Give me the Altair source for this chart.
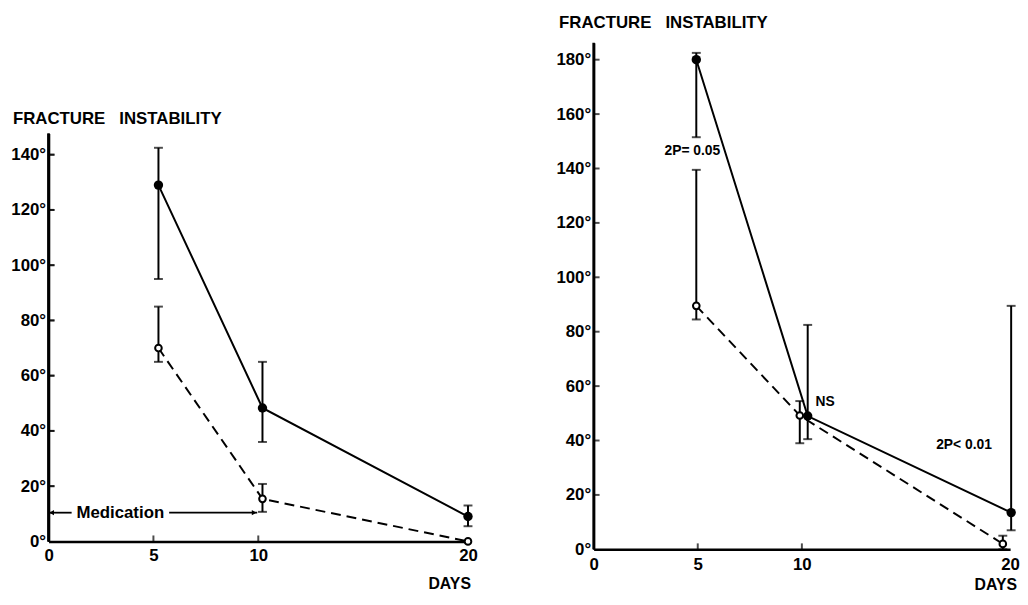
import altair as alt
import pandas as pd

FONT = "Liberation Sans"
WEIGHT = "bold"

# ---------------- data ----------------
X_TICKS = [0, 5, 10, 20]

# left panel
L_FILLED_DAY = [5.24, 10.2, 20.0]
L_FILLED_VAL = [129, 48.3, 9]
L_FILLED_LO = [95, 36, 5.5]
L_FILLED_HI = [142.5, 65, 13]
L_OPEN_DAY = [5.24, 10.2, 20.0]
L_OPEN_VAL = [70, 15.4, 0]
L_OPEN_ERR_DAY = [5.24, 10.2]
L_OPEN_LO = [65, 10.7]
L_OPEN_HI = [85, 20.8]
L_Y_TICKS = [0, 20, 40, 60, 80, 100, 120, 140]

# right panel
R_FILLED_DAY = [4.93, 10.28, 20.05]
R_FILLED_VAL = [180, 49, 13.5]
R_FILLED_LO = [151.5, 40.5, 7]
R_FILLED_HI = [182.5, 82.5, 89.5]
R_OPEN_DAY = [4.93, 9.9, 19.65]
R_OPEN_VAL = [89.5, 49.2, 2]
R_OPEN_ERR_DAY = [4.93, 9.9, 19.65]
R_OPEN_LO = [84.5, 39, 0]
R_OPEN_HI = [139.5, 54.5, 5]
R_Y_TICKS = [0, 20, 40, 60, 80, 100, 120, 140, 160, 180]

TITLE = "FRACTURE\u00a0\u00a0\u00a0INSTABILITY"

# text annotations (text, day, degrees)
L_TEXTS = [TITLE, "DAYS"]
L_TEXT_X = [-1.70, 20.14]
L_TEXT_Y = [153, -15.6]
L_TEXT_ALIGN = ["left", "right"]
L_TEXT_SIZE = [17, 16]

R_TEXTS = [TITLE, "DAYS", "2P= 0.05", "NS", "2P< 0.01"]
R_TEXT_X = [-1.66, 20.33, 4.74, 10.66, 16.45]
R_TEXT_Y = [193.5, -13.3, 146.5, 54.2, 38.5]
R_TEXT_ALIGN = ["left", "right", "center", "left", "left"]
R_TEXT_SIZE = [17, 16, 14, 14, 14]

# medication arrow (left panel)
MED_LEVEL = 10.4
MED_START, MED_END = 0.0, 9.95
MED_TEXT_START, MED_TEXT_END = 1.1, 5.75
MED_TEXT_CENTER = 3.42

# axis extents (degrees) and panel geometry
L_YMAX, R_YMAX = 180.5, 186.2
L_AXIS_TOP, R_AXIS_TOP = 147.7, 186.2
L_W, L_H = 424, 504
R_W, R_H = 421, 512
SPACING = 127


def text_layers(X, Y, texts, xs_, ys_, aligns, sizes):
    tdf = pd.DataFrame({"t": texts, "d": xs_, "v": ys_, "a": aligns,
                        "s": sizes})
    out = []
    for al in sorted(set(aligns)):
        for sz in sorted(set(sizes)):
            out.append(
                alt.Chart(tdf)
                .transform_filter((alt.datum.a == al) & (alt.datum.s == sz))
                .mark_text(align=al, baseline="middle", font=FONT,
                           fontSize=sz, fontWeight=WEIGHT, color="black")
                .encode(x=X("d"), y=Y("v"), text="t:N"))
    return out


def panel(fd, fv, flo, fhi, od, ov, oed, olo, ohi, ymax, axis_top,
          yticks, width, height, label_pad_x, extra):
    xs = alt.Scale(domain=[0, 20], nice=False, zero=False)
    ys = alt.Scale(domain=[0, ymax], nice=False, zero=False)
    xax = alt.Axis(values=X_TICKS, ticks=False, grid=False, title=None,
                   labelPadding=label_pad_x, domain=True, labelFlush=False)
    axis_px = height * axis_top / ymax
    yax = alt.Axis(values=yticks, ticks=False, grid=False, title=None,
                   domain=True, domainDash=[axis_px, 3000],
                   labelPadding=3, labelFlush=False,
                   labelExpr="datum.value + '°'")

    def X(f):
        return alt.X(f, type="quantitative", scale=xs, axis=xax)

    def Y(f):
        return alt.Y(f, type="quantitative", scale=ys, axis=yax)

    filled = pd.DataFrame({"d": fd, "v": fv})
    opn = pd.DataFrame({"d": od, "v": ov})
    ferr = pd.DataFrame({"d": fd, "lo": flo, "hi": fhi})
    oerr = pd.DataFrame({"d": oed, "lo": olo, "hi": ohi})
    errs = pd.concat([ferr, oerr], ignore_index=True)
    caps = pd.concat([errs.rename(columns={"lo": "c"})[["d", "c"]],
                      errs.rename(columns={"hi": "c"})[["d", "c"]]],
                     ignore_index=True)
    caps["k"] = "cap"
    ytk = pd.DataFrame({"d": 0.0, "c": [float(t) for t in yticks if t > 0],
                        "k": "ytick"})
    xtk = pd.DataFrame({"d": [5.0, 10.0], "c": 0.0, "k": "xtick"})
    ticks = pd.concat([caps, ytk, xtk], ignore_index=True)
    axis_line = pd.DataFrame({"ad": [0.0], "a0": [0.0],
                              "a1": [float(axis_top)]})

    layers = [
        alt.Chart(opn).mark_line(color="black", strokeWidth=2,
                                 strokeDash=[10, 6])
        .encode(x=X("d"), y=Y("v")),
        alt.Chart(filled).mark_line(color="black", strokeWidth=2)
        .encode(x=X("d"), y=Y("v")),
        alt.Chart(errs).mark_rule(color="black", strokeWidth=2)
        .encode(x=X("d"), y=Y("lo"), y2="hi"),
        alt.Chart(ticks).transform_filter(alt.datum.k == "cap")
        .mark_tick(orient="horizontal", size=9, thickness=2, color="black")
        .encode(x=X("d"), y=Y("c")),
        alt.Chart(ticks).transform_filter(alt.datum.k == "ytick")
        .mark_tick(orient="horizontal", size=6, thickness=2, color="black",
                   xOffset=3)
        .encode(x=X("d"), y=Y("c")),
        alt.Chart(ticks).transform_filter(alt.datum.k == "xtick")
        .mark_tick(orient="vertical", size=6, thickness=2, color="black",
                   yOffset=-3)
        .encode(x=X("d"), y=Y("c")),
        alt.Chart(filled).mark_point(filled=True, color="black", size=90,
                                     opacity=1)
        .encode(x=X("d"), y=Y("v")),
        alt.Chart(opn).mark_point(filled=False, fill="white", stroke="black",
                                  strokeWidth=2, size=45, opacity=1)
        .encode(x=X("d"), y=Y("v")),
    ]
    layers += extra(X, Y)
    layers.append(
        alt.Chart(axis_line).mark_rule(color="black", strokeWidth=2.5)
        .encode(x=X("ad"), y=Y("a0"), y2="a1"))
    return alt.layer(*layers).properties(width=width, height=height)


def left_extra(X, Y):
    out = text_layers(X, Y, L_TEXTS, L_TEXT_X, L_TEXT_Y, L_TEXT_ALIGN,
                      L_TEXT_SIZE)
    seg = pd.DataFrame({"d": [MED_START, MED_TEXT_END],
                        "d2": [MED_TEXT_START, MED_END],
                        "v": [MED_LEVEL, MED_LEVEL]})
    out.append(alt.Chart(seg).mark_rule(color="black", strokeWidth=1.8)
               .encode(x=X("d"), x2="d2", y=Y("v")))
    heads = pd.DataFrame({"d": [MED_START + 0.15, MED_END - 0.15],
                          "v": [MED_LEVEL, MED_LEVEL],
                          "s": ["triangle-left", "triangle-right"]})
    for s in ["triangle-left", "triangle-right"]:
        out.append(alt.Chart(heads).transform_filter(alt.datum.s == s)
                   .mark_point(shape=s, size=28, filled=True,
                               color="black", opacity=1)
                   .encode(x=X("d"), y=Y("v")))
    med = pd.DataFrame({"t": ["Medication"], "d": [MED_TEXT_CENTER],
                        "v": [MED_LEVEL]})
    out.append(alt.Chart(med).mark_text(align="center", baseline="middle",
                                        font=FONT, fontSize=17,
                                        fontWeight=WEIGHT, color="black")
               .encode(x=X("d"), y=Y("v"), text="t:N"))
    return out


def left_to_right_y(v):
    """Convert a left-panel degree value into the right panel's y units
    (both plot areas share their top edge in the flush layout)."""
    px_from_top = L_H - L_H * v / L_YMAX
    return (R_H - px_from_top) * R_YMAX / R_H


def right_extra(X, Y):
    out = text_layers(X, Y, R_TEXTS, R_TEXT_X, R_TEXT_Y, R_TEXT_ALIGN,
                      R_TEXT_SIZE)
    # the left panel's vertical axis line, drawn again on top of the page
    left_x0 = -(L_W + SPACING) * 20 / R_W
    lax = pd.DataFrame({"ad": [left_x0],
                        "a0": [left_to_right_y(0.0)],
                        "a1": [left_to_right_y(L_AXIS_TOP)]})
    out.append(alt.Chart(lax).mark_rule(color="black", strokeWidth=2.5)
               .encode(x=X("ad"), y=Y("a0"), y2="a1"))
    ltk = pd.DataFrame({"ad": left_x0,
                        "tv": [left_to_right_y(t) for t in L_Y_TICKS
                               if t > 0]})
    out.append(alt.Chart(ltk).mark_tick(orient="horizontal", size=6,
                                        thickness=2, color="black",
                                        xOffset=3)
               .encode(x=X("ad"), y=Y("tv")))
    return out


left = panel(L_FILLED_DAY, L_FILLED_VAL, L_FILLED_LO, L_FILLED_HI,
             L_OPEN_DAY, L_OPEN_VAL, L_OPEN_ERR_DAY, L_OPEN_LO, L_OPEN_HI,
             L_YMAX, L_AXIS_TOP, L_Y_TICKS, L_W, L_H, 6, left_extra)
right = panel(R_FILLED_DAY, R_FILLED_VAL, R_FILLED_LO, R_FILLED_HI,
              R_OPEN_DAY, R_OPEN_VAL, R_OPEN_ERR_DAY, R_OPEN_LO, R_OPEN_HI,
              R_YMAX, R_AXIS_TOP, R_Y_TICKS, R_W, R_H, 7, right_extra)

chart = (
    alt.hconcat(left, right, spacing=SPACING, bounds="flush")
    .properties(padding={"left": 2, "top": 2, "right": 0, "bottom": 0})
    .configure_view(stroke=None)
    .configure_axis(labelFont=FONT, labelFontSize=17, labelFontWeight=WEIGHT,
                    labelColor="black", domainColor="black", domainWidth=2.5,
                    tickSize=0)
)

chart.save("out.html", embed_options={"renderer": "svg", "actions": False})
